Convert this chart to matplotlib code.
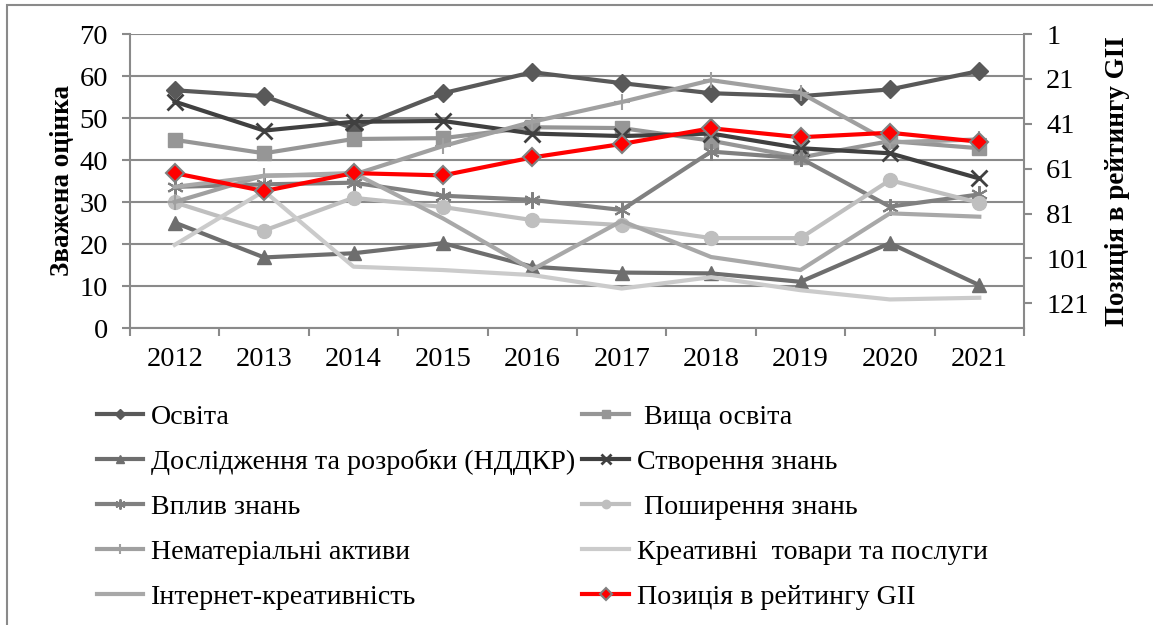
import matplotlib.pyplot as plt
from matplotlib.patches import Rectangle

plt.rcParams['font.family'] = 'serif'
plt.rcParams['font.serif'] = ['Liberation Serif', 'DejaVu Serif']

# дані з графіка
years = ['2012', '2013', '2014', '2015', '2016', '2017', '2018', '2019', '2020', '2021']
osvita = [56.6, 55.2, 47.5, 55.9, 60.9, 58.3, 55.9, 55.2, 56.8, 61.2]
vyshcha = [44.8, 41.6, 45.0, 45.2, 47.8, 47.6, 44.6, 40.6, 44.5, 42.8]
ndkr = [25.1, 16.8, 17.8, 20.2, 14.6, 13.2, 13.0, 11.0, 20.2, 10.2]
stvorennia = [53.9, 47.0, 49.1, 49.3, 46.3, 45.7, 46.3, 42.8, 41.6, 35.6]
vplyv = [33.6, 34.2, 34.6, 31.5, 30.5, 28.1, 42.0, 40.4, 28.9, 31.8]
poshyrennia = [29.9, 23.2, 31.0, 28.8, 25.7, 24.5, 21.4, 21.4, 35.2, 29.8]
nematerialni = [30.0, 36.3, 36.5, 43.3, 49.1, 53.8, 59.0, 56.0, 44.2, 44.9]
kreatyvni = [19.8, 32.6, 14.6, 13.8, 12.6, 9.4, 12.1, 9.0, 6.8, 7.2]
internet = [33.6, 36.2, 36.9, 26.1, 13.9, 25.5, 16.9, 13.8, 27.3, 26.5]
gii_rank = [63, 71, 63, 64, 56, 50, 43, 47, 45, 49]

W, H = 1153, 625
fs = 20.5
fig = plt.figure(figsize=(W / 100, H / 100), dpi=100)
ax = fig.add_axes([130 / W, 1 - 328 / H, (1024 - 130) / W, (328 - 34) / H])

grid_c = '#8a8a8a'
x = list(range(len(years)))

series = [
    ('Освіта', osvita, '#595959', 'D', 9, 1),
    (' Вища освіта', vyshcha, '#969696', 's', 10, 1),
    ('Дослідження та розробки (НДДКР)', ndkr, '#6e6e6e', '^', 10, 1),
    ('Створення знань', stvorennia, '#404040', 'x', 11, 2),
    ('Вплив знань', vplyv, '#808080', (6, 2, 0), 12, 1.5),
    (' Поширення знань', poshyrennia, '#bfbfbf', 'o', 10, 1),
    ('Нематеріальні активи', nematerialni, '#a0a0a0', '+', 12, 1.5),
    ('Креативні  товари та послуги', kreatyvni, '#cbcbcb', None, 0, 1),
    ('Інтернет-креативність', internet, '#a8a8a8', None, 0, 1),
]

handles = []
for label, vals, col, mk, ms, mew in series:
    h, = ax.plot(x, vals, color=col, lw=3, marker=mk, ms=ms, mew=mew,
                 mfc=col, mec=col, label=label)
    handles.append(h)

ax.set_xlim(-0.5, len(years) - 0.5)
ax.set_ylim(0, 70)
ax.set_yticks(range(0, 71, 10))
ax.yaxis.grid(True, color=grid_c, lw=1.5)
ax.set_axisbelow(True)
ax.set_xticks([i - 0.5 for i in range(len(years) + 1)])
ax.set_xticklabels([])
ax.set_xticks(x, minor=True)
ax.set_xticklabels(years, minor=True)
ax.tick_params(axis='x', which='major', length=6, width=1.5, color=grid_c)
ax.tick_params(axis='x', which='minor', length=0, pad=14, labelsize=fs)
ax.tick_params(axis='y', length=6, width=1.5, color=grid_c, labelsize=fs, pad=10)
for s in ['top', 'right']:
    ax.spines[s].set_visible(False)
for s in ['left', 'bottom']:
    ax.spines[s].set_color(grid_c)
    ax.spines[s].set_linewidth(1.5)
ax.set_ylabel('Зважена оцінка', fontsize=19.5, fontweight='bold', labelpad=3)

ax2 = ax.twinx()
h_gii, = ax2.plot(x, gii_rank, color='#ff0000', lw=3, marker='D', ms=9.5,
                  mfc='#ff0000', mec='#808080', mew=1.5,
                  label='Позиція в рейтингу GII')
ax2.set_ylim(132, 1)
ax2.set_yticks(range(1, 122, 20))
ax2.tick_params(axis='y', length=6, width=1.5, color=grid_c, labelsize=fs, pad=10)
for s in ['top', 'left', 'bottom']:
    ax2.spines[s].set_visible(False)
ax2.spines['right'].set_color(grid_c)
ax2.spines['right'].set_linewidth(1.5)
ax2.set_ylabel('Позиція в рейтингу GII', fontsize=19.5, fontweight='bold', labelpad=12)
handles.append(h_gii)

# легенда: два стовпці, порядок по рядках
order = [0, 2, 4, 6, 8, 1, 3, 5, 7, 9]
fig.legend([handles[i] for i in order], [handles[i].get_label() for i in order],
           loc='upper left', bbox_to_anchor=(97 / W, 1 - 404 / H), ncol=2,
           frameon=False, fontsize=20.2, handlelength=1.65, handletextpad=0.28,
           columnspacing=0.25, labelspacing=0.69, markerscale=0.6, borderpad=0,
           borderaxespad=0)

# рамка діаграми
fig.patches.append(Rectangle((7 / W, -0.1), 1.2, 1.1 - 5 / H, transform=fig.transFigure,
                             fill=False, edgecolor=grid_c, lw=1.5))

fig.savefig('out.png', dpi=100)
